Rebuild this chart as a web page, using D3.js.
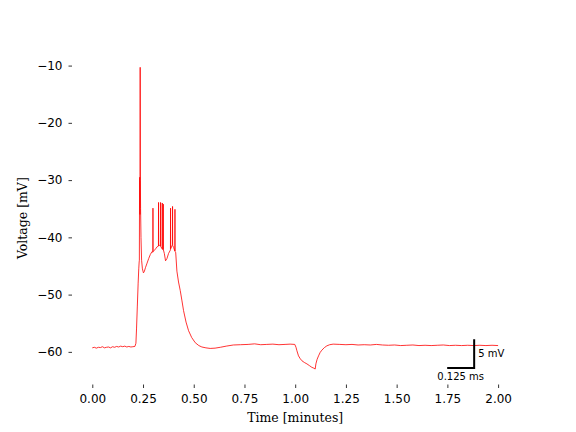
<!DOCTYPE html>
<html><head><meta charset="utf-8">
<script src="https://cdn.jsdelivr.net/npm/d3@7"></script>
<style>body{margin:0;background:#fff}svg{display:block}</style>
</head><body><svg id="c" width="576" height="432"></svg>
<script>
// time in minutes
const times = [
0.000,0.010,0.020,0.030,0.040,0.050,0.060,0.070,0.080,0.090,0.100,0.110,0.120,0.130,0.140,0.150,0.160,0.170,0.180,0.190,0.200,0.210,
0.215,0.218,0.222,0.226,0.229,0.231,
0.232,0.233,0.234,0.235,0.236,0.237,0.238,0.240,0.243,0.247,0.252,0.256,0.262,0.270,0.278,0.286,0.294,
0.2985,0.2990,0.2995,0.305,0.312,0.318,0.3260,0.3266,0.3272,0.331,0.3360,0.3365,0.3370,0.3445,0.3450,0.3455,0.3495,0.3500,0.3505,0.355,0.361,0.368,0.376,0.3852,0.3857,0.3862,0.3951,0.3956,0.3961,0.401,0.4069,0.4074,0.4079,0.411,
0.417,0.425,0.4335,0.4420,0.4498,0.462,0.4744,0.490,0.5074,0.525,0.540,0.560,0.581,0.605,0.631,0.660,0.695,0.730,0.768,
0.800,0.830,0.860,0.890,0.920,0.950,0.975,0.998,
1.0040,1.0084,1.0163,1.0250,1.0330,1.0450,1.0577,1.0700,1.0820,1.0920,1.0985,1.1020,1.1080,1.1150,1.1230,1.1315,1.1440,1.1560,1.1700,1.1870,
1.220,1.250,1.280,1.310,1.340,1.370,1.400,1.430,1.460,1.490,1.520,1.550,1.580,1.610,1.640,1.670,1.700,1.730,1.760,1.790,1.820,1.850,1.880,1.910,1.940,1.970,2.000
];
// membrane voltage in mV
const voltages = [
-59.30,-59.20,-59.35,-59.20,-59.25,-59.10,-59.30,-59.20,-59.15,-59.30,-59.10,-59.20,-59.05,-59.15,-59.00,-59.10,-59.00,-59.15,-59.05,-59.15,-59.10,-59.05,
-58.50,-56.00,-52.00,-48.00,-45.50,-44.30,
-44.00,-30.00,-29.50,-36.00,-10.30,-30.00,-35.00,-40.00,-44.00,-45.50,-46.20,-46.00,-45.30,-44.50,-43.70,-43.00,-42.50,
-42.60,-34.90,-42.50,-42.30,-42.00,-41.70,-41.50,-33.90,-41.50,-41.40,-41.50,-33.90,-41.60,-42.00,-34.00,-42.10,-42.10,-34.20,-42.20,-42.80,-44.10,-43.70,-42.80,-42.20,-34.90,-42.00,-41.30,-34.60,-41.40,-41.80,-42.40,-35.10,-42.50,-42.60,
-45.90,-47.80,-49.30,-51.10,-52.80,-54.80,-56.30,-57.50,-58.40,-58.90,-59.15,-59.30,-59.40,-59.35,-59.20,-59.00,-58.80,-58.75,-58.70,
-58.60,-58.75,-58.70,-58.65,-58.75,-58.70,-58.65,-58.70,
-59.20,-59.80,-60.70,-61.20,-61.55,-61.85,-62.10,-62.40,-62.70,-62.85,-63.00,-62.10,-61.30,-60.70,-60.10,-59.70,-59.25,-58.95,-58.75,-58.65,
-58.70,-58.75,-58.70,-58.80,-58.75,-58.80,-58.70,-58.80,-58.85,-58.80,-58.90,-58.85,-58.80,-58.90,-58.85,-58.90,-58.85,-58.80,-58.90,-58.85,-58.90,-58.85,-58.90,-58.85,-58.90,-58.85,-58.90
];
const xTicks = [0,0.25,0.5,0.75,1,1.25,1.5,1.75,2];
const yTicks = [-60,-50,-40,-30,-20,-10];

const svg = d3.select("#c");
const L=72, R=518.4, T=51.84, B=384.5;
const x = d3.scaleLinear().domain([-0.1,2.1]).range([L,R]);
const y = d3.scaleLinear().domain([-65.7,-7.6]).range([B,T]);

const pts = times.map((t,i)=>[t,voltages[i]]);
svg.append("path").datum(pts)
  .attr("d", d3.line().x(d=>x(d[0])).y(d=>y(d[1])))
  .attr("fill","none").attr("stroke","#ff0000").attr("stroke-width",0.8)
  .attr("stroke-linejoin","round");

const fmtX = d=>d3.format(".2f")(d);
const fmtY = d=>(d<0?"\u2212":"")+Math.abs(d);

const gx = svg.append("g").attr("transform",`translate(0,${B})`)
  .call(d3.axisBottom(x).tickValues(xTicks).tickFormat(fmtX).tickSize(3.5).tickPadding(6));
const gy = svg.append("g").attr("transform",`translate(${L},0)`)
  .call(d3.axisLeft(y).tickValues(yTicks).tickFormat(fmtY).tickSize(3.5).tickPadding(6));
[gx,gy].forEach(g=>{
  g.select(".domain").remove();
  g.selectAll(".tick line").attr("stroke","#000").attr("stroke-width",0.8);
  g.selectAll(".tick text").attr("fill","#000").style("font-family","DejaVu Sans").style("font-size","12px");
});

svg.append("text").attr("x",(L+R)/2).attr("y",422).attr("text-anchor","middle")
  .style("font-family","DejaVu Serif").style("font-size","12.5px").text("Time [minutes]");
svg.append("text").attr("transform",`translate(27,${(T+B)/2}) rotate(-90)`).attr("text-anchor","middle")
  .style("font-family","DejaVu Serif").style("font-size","12.5px").text("Voltage [mV]");

// scale bar
const sbX = 1.882, sbY = -62.8, sbV = 5, sbT = 0.133;
svg.append("path")
  .attr("d",`M${x(sbX-sbT)},${y(sbY)}H${x(sbX)}V${y(sbY+sbV)}`)
  .attr("fill","none").attr("stroke","#000").attr("stroke-width",2);
svg.append("text").attr("x",x(sbX)+4).attr("y",y(sbY+sbV/2)+3.5)
  .style("font-family","DejaVu Sans").style("font-size","10px").text("5 mV");
svg.append("text").attr("x",x(sbX-sbT/2)).attr("y",y(sbY)+12).attr("text-anchor","middle")
  .style("font-family","DejaVu Sans").style("font-size","10px").text("0.125 ms");
</script></body></html>
